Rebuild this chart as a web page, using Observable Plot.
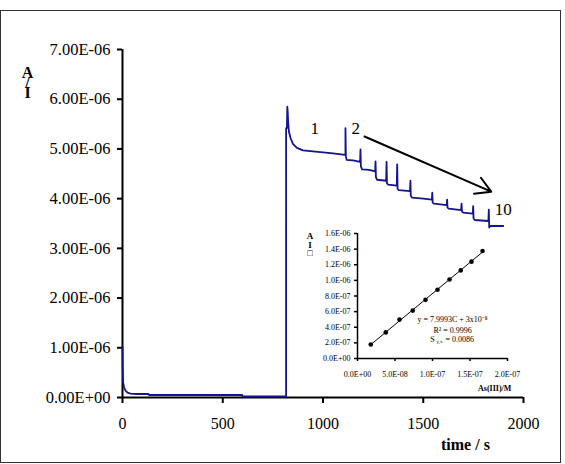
<!DOCTYPE html>
<html>
<head>
<meta charset="utf-8">
<script src="https://cdn.jsdelivr.net/npm/d3@7"></script>
<script src="https://cdn.jsdelivr.net/npm/@observablehq/plot@0.6"></script>
<style>
  html, body { margin: 0; padding: 0; background: #fff; }
  #wrap { position: relative; width: 565px; height: 464px; font-family: 'Liberation Serif', 'Times New Roman', serif; }
  #border { position: absolute; left: 0px; top: 10px; width: 559px; height: 451px; border: 1.5px solid #333; }
  .abs { position: absolute; color: #000; white-space: nowrap; line-height: 1; }
  .vert { writing-mode: vertical-rl; text-orientation: upright; }
  #main, #inset { position: absolute; }
  #main { left: 0; top: 0; }
  #inset { left: 300px; top: 220px; }
</style>
</head>
<body>
<div id="wrap">
  <div id="border"></div>
  <div id="main"></div>
  <div id="inset"></div>
  <div class="abs vert" style="left:19px;top:64px;font-size:16px;letter-spacing:-7px;font-weight:bold;">A/I</div>
  <div class="abs" style="left:441px;top:437px;font-size:16px;font-weight:bold;">time / s</div>
  <div class="abs vert" style="left:305px;top:231px;font-size:9px;letter-spacing:-1.5px;font-weight:bold;">AI□</div>
  <div class="abs" style="left:478px;top:385px;font-size:8px;font-weight:bold;">As(III)/M</div>
</div>
<script>
// ---- Main chronoamperogram (time in s, current in A) ----
const time = [0, 1, 3, 8, 15, 25, 40, 70, 130, 132, 300, 597, 599, 816,
  816, 820, 822, 824, 826, 830, 838, 850, 870, 900, 950, 1000, 1050, 1110,
  1112, 1112, 1114, 1118, 1150, 1185,
  1187, 1189, 1195, 1230, 1260,
  1262, 1264, 1270, 1315,
  1317, 1319, 1325, 1368,
  1370, 1372, 1378, 1434,
  1436, 1438, 1444, 1500, 1543,
  1545, 1547, 1553, 1617,
  1619, 1621, 1627, 1689,
  1691, 1693, 1699, 1747,
  1749, 1751, 1757, 1825,
  1827, 1829, 1835, 1899];
const current = [1.02e-6, 0.60e-6, 0.31e-6, 0.20e-6, 0.14e-6, 0.10e-6, 0.08e-6, 0.07e-6, 0.07e-6, 0.05e-6, 0.05e-6, 0.05e-6, 0.02e-6, 0.02e-6,
  5.42e-6, 5.42e-6, 5.85e-6, 5.75e-6, 5.55e-6, 5.35e-6, 5.22e-6, 5.10e-6, 5.02e-6, 4.97e-6, 4.95e-6, 4.93e-6, 4.91e-6, 4.88e-6,
  4.88e-6, 5.42e-6, 4.85e-6, 4.78e-6, 4.77e-6, 4.74e-6,
  4.99e-6, 4.65e-6, 4.59e-6, 4.58e-6, 4.55e-6,
  4.75e-6, 4.43e-6, 4.38e-6, 4.36e-6,
  4.74e-6, 4.31e-6, 4.28e-6, 4.26e-6,
  4.69e-6, 4.20e-6, 4.17e-6, 4.15e-6,
  4.36e-6, 4.06e-6, 4.02e-6, 4.00e-6, 3.98e-6,
  4.12e-6, 3.92e-6, 3.90e-6, 3.87e-6,
  3.98e-6, 3.82e-6, 3.80e-6, 3.77e-6,
  3.90e-6, 3.74e-6, 3.72e-6, 3.70e-6,
  3.85e-6, 3.60e-6, 3.57e-6, 3.55e-6,
  3.78e-6, 3.42e-6, 3.45e-6, 3.45e-6];

const xTicks = [0, 500, 1000, 1500, 2000];
const xTickLabels = ["0", "500", "1000", "1500", "2000"];
const yTicks = [0, 1e-6, 2e-6, 3e-6, 4e-6, 5e-6, 6e-6, 7e-6];
const yTickLabels = ["0.00E+00", "1.00E-06", "2.00E-06", "3.00E-06", "4.00E-06", "5.00E-06", "6.00E-06", "7.00E-06"];

// annotation labels on the trace
const annotText = ["1", "2", "10"];
const annotTime = [959, 1163, 1899];
const annotCurrent = [5.40e-6, 5.42e-6, 3.79e-6];
// arrow from label 2 towards label 10
const arrowStart = [1207, 5.25e-6];
const arrowEnd = [1839, 4.14e-6];

// ---- Inset calibration plot ----
const conc = [1.77e-8, 3.77e-8, 5.6e-8, 7.37e-8, 9.07e-8, 1.067e-7, 1.227e-7, 1.377e-7, 1.52e-7, 1.667e-7];
const peakCurrent = [0.18e-6, 0.334e-6, 0.498e-6, 0.613e-6, 0.751e-6, 0.88e-6, 1.012e-6, 1.128e-6, 1.24e-6, 1.376e-6];
const insetXTicks = [0, 5e-8, 1e-7, 1.5e-7, 2e-7];
const insetXTickLabels = ["0.0E+00", "5.0E-08", "1.0E-07", "1.5E-07", "2.0E-07"];
const insetYTicks = [0, 2e-7, 4e-7, 6e-7, 8e-7, 1e-6, 1.2e-6, 1.4e-6, 1.6e-6];
const insetYTickLabels = ["0.0E+00", "2.0E-07", "4.0E-07", "6.0E-07", "8.0E-07", "1.0E-06", "1.2E-06", "1.4E-06", "1.6E-06"];
const eqLines = ["y = 7.9993C + 3x10⁻⁸", "R² = 0.9996"];
const eqConc = [1.267e-7, 1.267e-7];
const eqCurrent = [0.494e-6, 0.356e-6];
const syxLabel = ["S", "y,x", "= 0.0086"];
const syxPos = [1.267e-7, 0.245e-6];

const trace = time.map((t, i) => ({t, I: current[i]}));
const annots = annotText.map((s, i) => ({s, t: annotTime[i], I: annotCurrent[i]}));
const arrows = [{x1: arrowStart[0], y1: arrowStart[1], x2: arrowEnd[0], y2: arrowEnd[1]}];

const serif = "'Liberation Serif', 'Times New Roman', serif";

const mainPlot = Plot.plot({
  width: 565, height: 464,
  marginLeft: 122, marginRight: 42, marginTop: 49, marginBottom: 67,
  style: {fontFamily: serif, fontSize: "16px", background: "transparent", color: "#000"},
  x: {domain: [0, 2000]},
  y: {domain: [0, 7e-6]},
  marks: [
    Plot.axisX({ticks: xTicks, tickFormat: (d, i) => xTickLabels[i], tickSize: 6, tickPadding: 14, strokeWidth: 2, fontSize: 16, label: null}),
    Plot.axisY({ticks: yTicks, tickFormat: (d, i) => yTickLabels[i], tickSize: 5, tickPadding: 7, strokeWidth: 2, fontSize: 16.5, label: null}),
    Plot.ruleX([0], {stroke: "#000", strokeWidth: 2}),
    Plot.ruleY([0], {stroke: "#000", strokeWidth: 2}),
    Plot.line(trace, {x: "t", y: "I", stroke: "#14148c", strokeWidth: 1.8, curve: "linear"}),
    Plot.text(annots, {x: "t", y: "I", text: "s", fontSize: 17, fill: "#000"}),
    Plot.arrow(arrows, {x1: "x1", y1: "y1", x2: "x2", y2: "y2", stroke: "#000", strokeWidth: 2, headLength: 13})
  ]
});
document.getElementById("main").appendChild(mainPlot);

const pts = conc.map((c, i) => ({c, I: peakCurrent[i]}));
const eqs = eqLines.map((s, i) => ({s, c: eqConc[i], I: eqCurrent[i]}));
const syx = [{c: syxPos[0], I: syxPos[1]}];

const insetPlot = Plot.plot({
  width: 230, height: 180,
  marginLeft: 57, marginRight: 23, marginTop: 13, marginBottom: 42,
  style: {fontFamily: serif, fontSize: "8px", background: "transparent", color: "#000"},
  x: {domain: [0, 2e-7]},
  y: {domain: [0, 1.6e-6]},
  marks: [
    Plot.axisX({ticks: insetXTicks, tickFormat: (d, i) => insetXTickLabels[i], tickSize: 3, tickPadding: 10, strokeWidth: 1.5, fontSize: 8, label: null}),
    Plot.axisY({ticks: insetYTicks, tickFormat: (d, i) => insetYTickLabels[i], tickSize: 3, tickPadding: 4, strokeWidth: 1.5, fontSize: 8, label: null}),
    Plot.ruleX([0], {stroke: "#000", strokeWidth: 1.5}),
    Plot.ruleY([0], {stroke: "#000", strokeWidth: 1.5}),
    Plot.linearRegressionY(pts, {x: "c", y: "I", stroke: "#000", strokeWidth: 1, ci: 0}),
    Plot.dot(pts, {x: "c", y: "I", r: 2.3, fill: "#000", stroke: "none"}),
    Plot.text(eqs, {x: "c", y: "I", text: "s", fontSize: 8, fill: "#000"}),
    Plot.text(syx, {x: "c", y: "I", text: () => syxLabel[0], fontSize: 8, dx: -20, fill: "#000"}),
    Plot.text(syx, {x: "c", y: "I", text: () => syxLabel[1], fontSize: 5, dx: -13, dy: 2, fill: "#000"}),
    Plot.text(syx, {x: "c", y: "I", text: () => syxLabel[2], fontSize: 8, dx: -7, textAnchor: "start", fill: "#000"})
  ]
});
document.getElementById("inset").appendChild(insetPlot);
</script>
</body>
</html>
